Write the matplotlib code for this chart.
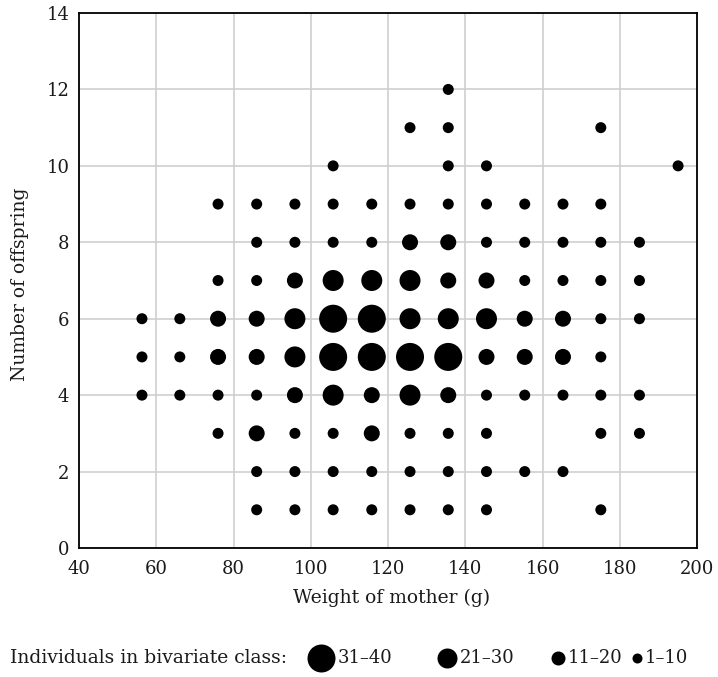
import matplotlib
matplotlib.use("Agg")
import matplotlib.pyplot as plt
import numpy as np

# Weight class midpoints (g)
weights = [56.3, 66.1, 76.0, 86.0, 95.9, 105.8, 115.8, 125.7, 135.6, 145.5, 155.4, 165.3, 175.1, 185.1, 195.1]
# Number of offspring (rows, top to bottom)
offspring = [12, 11, 10, 9, 8, 7, 6, 5, 4, 3, 2, 1]
# Frequency class per cell: 0 = empty, 1 = 1-10, 2 = 11-20, 3 = 21-30, 4 = 31-40
class_matrix = [
    [0, 0, 0, 0, 0, 0, 0, 0, 1, 0, 0, 0, 0, 0, 0],  # 12
    [0, 0, 0, 0, 0, 0, 0, 1, 1, 0, 0, 0, 1, 0, 0],  # 11
    [0, 0, 0, 0, 0, 1, 0, 0, 1, 1, 0, 0, 0, 0, 1],  # 10
    [0, 0, 1, 1, 1, 1, 1, 1, 1, 1, 1, 1, 1, 0, 0],  # 9
    [0, 0, 0, 1, 1, 1, 1, 2, 2, 1, 1, 1, 1, 1, 0],  # 8
    [0, 0, 1, 1, 2, 3, 3, 3, 2, 2, 1, 1, 1, 1, 0],  # 7
    [1, 1, 2, 2, 3, 4, 4, 3, 3, 3, 2, 2, 1, 1, 0],  # 6
    [1, 1, 2, 2, 3, 4, 4, 4, 4, 2, 2, 2, 1, 0, 0],  # 5
    [1, 1, 1, 1, 2, 3, 2, 3, 2, 1, 1, 1, 1, 1, 0],  # 4
    [0, 0, 1, 2, 1, 1, 2, 1, 1, 1, 0, 0, 1, 1, 0],  # 3
    [0, 0, 0, 1, 1, 1, 1, 1, 1, 1, 1, 1, 0, 0, 0],  # 2
    [0, 0, 0, 1, 1, 1, 1, 1, 1, 1, 0, 0, 1, 0, 0],  # 1
]
class_labels = ["31\u201340", "21\u201330", "11\u201320", "1\u201310"]
class_codes = [4, 3, 2, 1]
legend_title = "Individuals in bivariate class:"

x_ticks = list(range(40, 201, 20))
y_ticks = list(range(0, 15, 2))

# ---- styling ----
W, H = 718, 677
diam_px = {1: 11, 2: 16, 3: 21, 4: 28}          # marker diameters (px)
legend_diam_px = {1: 10, 2: 14, 3: 20, 4: 28}
legend_marker_x = [321, 447, 558, 637]           # legend layout (px)
text_color = '#1a1a1a'

plt.rcParams['font.family'] = ['DejaVu Serif']

fig = plt.figure(figsize=(W / 100, H / 100), dpi=100)
ax = fig.add_axes([79 / W, 1 - 548 / H, (697 - 79) / W, (548 - 13) / H])


def s_of(d_px):
    return (d_px * 72 / 100) ** 2


xs, ys, ss = [], [], []
for r, yv in enumerate(offspring):
    for c, xv in enumerate(weights):
        code = class_matrix[r][c]
        if code:
            xs.append(xv)
            ys.append(yv)
            ss.append(s_of(diam_px[code]))
ax.scatter(xs, ys, s=ss, c='black', linewidths=0, zorder=3)

ax.set_xlim(40, 200)
ax.set_ylim(0, 14)
ax.set_xticks(x_ticks)
ax.set_yticks(y_ticks)
ax.tick_params(length=0, labelsize=13, colors=text_color)
ax.tick_params(axis='x', pad=9)
ax.tick_params(axis='y', pad=7)
ax.grid(True, color='#cfcfcf', linewidth=1.2, zorder=0)
ax.set_axisbelow(True)
for sp in ax.spines.values():
    sp.set_linewidth(1.3)
    sp.set_color('black')
ax.set_xlabel("Weight of mother (g)", fontsize=13.5, color=text_color)
ax.set_ylabel("Number of offspring", fontsize=13.5, color=text_color)
ax.xaxis.label.set_va('center')
ax.xaxis.set_label_coords((392 - 79) / 618, -(598 - 548) / 535)
ax.yaxis.label.set_va('center')
ax.yaxis.set_label_coords(-(79 - 20) / 618, 1 - (284 - 13) / 535)

# ---- legend row ----
lax = fig.add_axes([0, 0, 1, 1], facecolor='none')
lax.set_xlim(0, W)
lax.set_ylim(H, 0)
lax.axis('off')
ly = 658
lax.text(10, ly, legend_title, fontsize=13.5, va='center', ha='left', color=text_color)
for code, lab, mx in zip(class_codes, class_labels, legend_marker_x):
    d = legend_diam_px[code]
    lax.scatter([mx], [ly], s=s_of(d), c='black', linewidths=0)
    lax.text(mx + d / 2 + 3, ly, lab, fontsize=13, va='center', ha='left', color=text_color)

fig.savefig("out.png", dpi=100)
